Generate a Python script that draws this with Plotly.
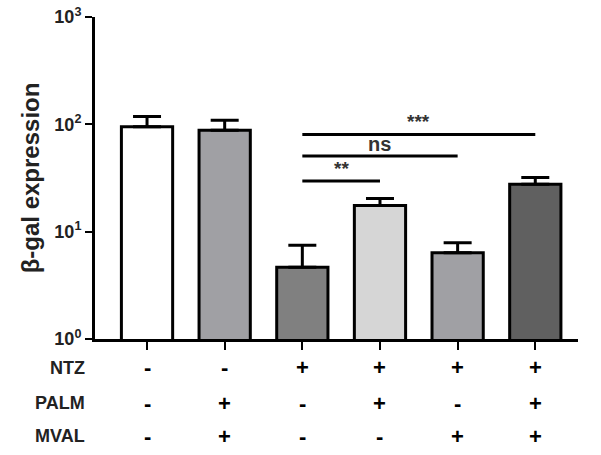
import math
import plotly.graph_objects as go

# ---- data ----
groups = [0, 1, 2, 3, 4, 5]
values = [95, 88, 4.66, 17.5, 6.35, 27.7]
err_up = [23, 21, 2.8, 2.9, 1.55, 4.3]
bar_colors = ["#ffffff", "#a0a0a4", "#808080", "#d6d6d6", "#a0a0a4", "#606060"]

row_labels = ["NTZ", "PALM", "MVAL"]
row_signs = [
    ["-", "-", "+", "+", "+", "+"],
    ["-", "+", "-", "+", "-", "+"],
    ["-", "+", "-", "-", "+", "+"],
]

# significance comparisons: (from group, to group, level, label)
comp_from = [2, 2, 2]
comp_to = [5, 4, 3]
comp_level = [80.5, 50.8, 29.7]
comp_label = ["***", "ns", "**"]

y_tickvals = [1, 10, 100, 1000]
y_ticktext = ["<b>10</b><sup><b>0</b></sup>", "<b>10</b><sup><b>1</b></sup>",
              "<b>10</b><sup><b>2</b></sup>", "<b>10</b><sup><b>3</b></sup>"]

fig = go.Figure()
fig.add_trace(go.Bar(
    x=groups, y=values, width=0.66,
    marker=dict(color=bar_colors, line=dict(color="black", width=3)),
    error_y=dict(type="data", array=err_up, arrayminus=[0] * len(err_up),
                 color="black", thickness=3, width=14),
    showlegend=False, hoverinfo="skip",
))

shapes = []
annotations = []
for a, b, lv, lab in zip(comp_from, comp_to, comp_level, comp_label):
    shapes.append(dict(type="line", xref="x", yref="y", x0=a, x1=b,
                       y0=lv, y1=lv, line=dict(color="black", width=3)))
    is_star = "*" in lab
    annotations.append(dict(x=(a + b) / 2, y=math.log10(lv), xref="x", yref="y",
                            text="<b>%s</b>" % lab, showarrow=False, yanchor="bottom",
                            yshift=0 if is_star else -1,
                            font=dict(family="Arial", size=19 if is_star else 20,
                                      color="#333333")))

row_y = [368, 403, 436]
for lab, signs, py in zip(row_labels, row_signs, row_y):
    yp = 1 - (py - 17) / (339 - 17)
    annotations.append(dict(x=0, xref="paper", xshift=-8, y=yp, yref="paper",
                            text="<b>%s</b>" % lab, showarrow=False, xanchor="right",
                            yanchor="middle",
                            font=dict(family="Arial", size=18, color="#222222")))
    for g, s in zip(groups, signs):
        annotations.append(dict(x=g, xref="x", y=yp, yref="paper", text="<b>%s</b>" % s,
                                showarrow=False, yanchor="middle", xanchor="center",
                                font=dict(family="Arial", size=22, color="black")))

fig.update_layout(
    width=601, height=455,
    margin=dict(l=95, r=23, t=17, b=116, autoexpand=False),
    paper_bgcolor="white", plot_bgcolor="white",
    shapes=shapes, annotations=annotations,
    font=dict(family="Arial", color="black"),
    xaxis=dict(range=[-0.67, 5.55], showline=True, linecolor="black", linewidth=3,
               tickvals=groups, showticklabels=False, ticks="outside", ticklen=8,
               tickwidth=2, tickcolor="black", showgrid=False, zeroline=False,
               automargin=False),
    yaxis=dict(type="log", range=[0, 3], showline=True, linecolor="black", linewidth=3,
               tickvals=y_tickvals, ticktext=y_ticktext, ticks="outside", ticklen=7,
               tickwidth=2, tickcolor="black", showgrid=False, zeroline=False,
               automargin=False,
               tickfont=dict(family="Arial", size=18, color="#222222"),
               title=dict(text="<b>β-gal expression</b>", standoff=8,
                          font=dict(family="Arial", size=24, color="#222222"))),
)

fig.write_html("out.html", config={"displayModeBar": False},
               post_script="document.body.style.margin='0';")
